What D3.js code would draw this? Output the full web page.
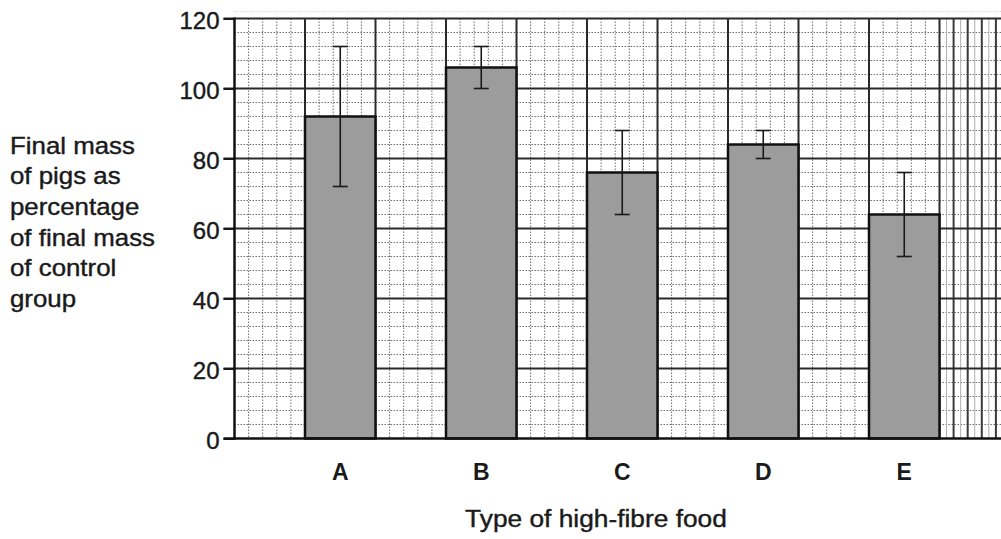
<!DOCTYPE html>
<html>
<head>
<meta charset="utf-8">
<script src="https://cdn.jsdelivr.net/npm/d3@7"></script>
<style>
  body { margin: 0; background: #fff; }
  svg { display: block; font-family: "Liberation Sans", Arial, sans-serif; }
</style>
</head>
<body>
<svg id="chart" width="1001" height="539"></svg>
<script>
"use strict";
(function () {
  // Data
  const foods = ["A", "B", "C", "D", "E"];
  const means = [92, 106, 76, 84, 64];
  const lows = [72, 100, 64, 80, 52];
  const highs = [112, 112, 88, 88, 76];
  const yTicks = [0, 20, 40, 60, 80, 100, 120];
  const yTitleLines = [
    "Final mass",
    "of pigs as",
    "percentage",
    "of final mass",
    "of control",
    "group",
  ];
  const xTitle = "Type of high-fibre food";

  const width = 1001;
  const svg = d3.select("#chart");

  const x0 = 234.5; // y axis position
  const cell = 70.5; // one major grid square
  const y = d3.scaleLinear().domain([0, 120]).range([438.5, 18.5]);
  const gx = d3.scaleLinear().domain([0, 10]).range([x0, x0 + 10 * cell]);
  const x = d3
    .scaleBand()
    .domain(foods)
    .range([gx(1), gx(10)])
    .paddingInner(0.5)
    .paddingOuter(0)
    .align(0);

  const grid = svg.append("g");
  const minorStyle = (sel) =>
    sel
      .attr("stroke", "#6e6e6e")
      .attr("stroke-width", 1)
      .attr("stroke-dasharray", "1.5,1.5");

  // faint line above the top
  grid
    .append("line")
    .attr("x1", x0)
    .attr("x2", width)
    .attr("y1", y(122))
    .attr("y2", y(122))
    .attr("stroke", "#d8d8d8")
    .attr("stroke-dasharray", "1.5,1.5");

  // minor horizontals every 4 units
  grid
    .selectAll(".hminor")
    .data(d3.range(4, 120, 4).filter((v) => v % 20 !== 0))
    .join("line")
    .attr("class", "hminor")
    .attr("x1", x0)
    .attr("x2", width)
    .attr("y1", (d) => y(d))
    .attr("y2", (d) => y(d))
    .call(minorStyle);

  // minor verticals every fifth of a square
  grid
    .selectAll(".vminor")
    .data(d3.range(0.2, 10, 0.2).filter((v) => Math.abs(v - Math.round(v)) > 0.05))
    .join("line")
    .attr("class", "vminor")
    .attr("x1", (d) => gx(d))
    .attr("x2", (d) => gx(d))
    .attr("y1", y(120))
    .attr("y2", y(0))
    .call(minorStyle);

  // dense strip past the last square
  const strip = d3.range(10.1, 11, 0.1).map((v) => gx(v)).filter((v) => v < width);
  grid
    .selectAll(".strip")
    .data(strip)
    .join("line")
    .attr("class", "strip")
    .attr("x1", (d) => d)
    .attr("x2", (d) => d)
    .attr("y1", y(120))
    .attr("y2", y(0))
    .attr("stroke", (d, i) => (i % 2 === 1 ? "#3a3a3a" : "#b0b0b0"))
    .attr("stroke-width", (d, i) => (i % 2 === 1 ? 2 : 1));

  // major horizontals
  grid
    .selectAll(".hmajor")
    .data(yTicks.filter((v) => v > 0))
    .join("line")
    .attr("class", "hmajor")
    .attr("x1", x0 - 11)
    .attr("x2", width)
    .attr("y1", (d) => y(d))
    .attr("y2", (d) => y(d))
    .attr("stroke", "#2a2a2a")
    .attr("stroke-width", 2);

  // major verticals
  grid
    .selectAll(".vmajor")
    .data(d3.range(1, 11))
    .join("line")
    .attr("class", "vmajor")
    .attr("x1", (d) => gx(d))
    .attr("x2", (d) => gx(d))
    .attr("y1", y(120))
    .attr("y2", y(0))
    .attr("stroke", "#2a2a2a")
    .attr("stroke-width", 2);

  // bars
  svg
    .append("g")
    .selectAll("rect")
    .data(foods)
    .join("rect")
    .attr("x", (d) => x(d))
    .attr("width", x.bandwidth())
    .attr("y", (d, i) => y(means[i]))
    .attr("height", (d, i) => y(0) - y(means[i]))
    .attr("fill", "#9c9c9c")
    .attr("stroke", "#111")
    .attr("stroke-width", 2.5);

  // error bars
  const capW = 15;
  const err = svg
    .append("g")
    .attr("stroke", "#1a1a1a")
    .attr("stroke-width", 1.6)
    .selectAll("g")
    .data(foods)
    .join("g")
    .attr("transform", (d) => `translate(${x(d) + x.bandwidth() / 2},0)`);
  err
    .append("line")
    .attr("y1", (d, i) => y(lows[i]))
    .attr("y2", (d, i) => y(highs[i]));
  err
    .append("line")
    .attr("x1", -capW / 2)
    .attr("x2", capW / 2)
    .attr("y1", (d, i) => y(highs[i]))
    .attr("y2", (d, i) => y(highs[i]));
  err
    .append("line")
    .attr("x1", -capW / 2)
    .attr("x2", capW / 2)
    .attr("y1", (d, i) => y(lows[i]))
    .attr("y2", (d, i) => y(lows[i]));

  // y axis
  const yAxis = svg
    .append("g")
    .attr("transform", `translate(${x0},0)`)
    .call(d3.axisLeft(y).tickValues(yTicks).tickSize(11).tickPadding(4));
  yAxis.select(".domain").remove();
  yAxis.selectAll(".tick line").attr("stroke", "#1a1a1a").attr("stroke-width", 2);
  yAxis
    .selectAll(".tick text")
    .attr("fill", "#1a1a1a")
    .attr("stroke", "#1a1a1a")
    .attr("stroke-width", 0.4)
    .attr("font-size", 24)
    .attr("dy", "0.42em")
    .attr("font-family", "Liberation Sans, Arial, sans-serif");
  svg
    .append("line")
    .attr("x1", x0)
    .attr("x2", x0)
    .attr("y1", y(120) - 1)
    .attr("y2", y(0) + 1)
    .attr("stroke", "#111")
    .attr("stroke-width", 2.5);
  svg
    .append("line")
    .attr("x1", x0 - 11)
    .attr("x2", width)
    .attr("y1", y(0))
    .attr("y2", y(0))
    .attr("stroke", "#111")
    .attr("stroke-width", 2.5);

  // category labels
  svg
    .append("g")
    .selectAll("text")
    .data(foods)
    .join("text")
    .attr("x", (d) => x(d) + x.bandwidth() / 2)
    .attr("y", 480)
    .attr("text-anchor", "middle")
    .attr("font-size", 23)
    .attr("font-weight", "bold")
    .attr("fill", "#1a1a1a")
    .text((d) => d);

  // axis titles
  svg
    .append("text")
    .attr("transform", "translate(596,527) scale(1.12,1)")
    .attr("text-anchor", "middle")
    .attr("font-size", 23.5)
    .attr("fill", "#1a1a1a")
    .attr("stroke", "#1a1a1a")
    .attr("stroke-width", 0.4)
    .text(xTitle);

  svg
    .append("g")
    .selectAll("text")
    .data(yTitleLines)
    .join("text")
    .attr("transform", (d, i) => `translate(10,${153.5 + i * 30.7}) scale(1.1,1)`)
    .attr("font-size", 23.5)
    .attr("fill", "#1a1a1a")
    .attr("stroke", "#1a1a1a")
    .attr("stroke-width", 0.4)
    .text((d) => d);
})();
</script>
</body>
</html>
